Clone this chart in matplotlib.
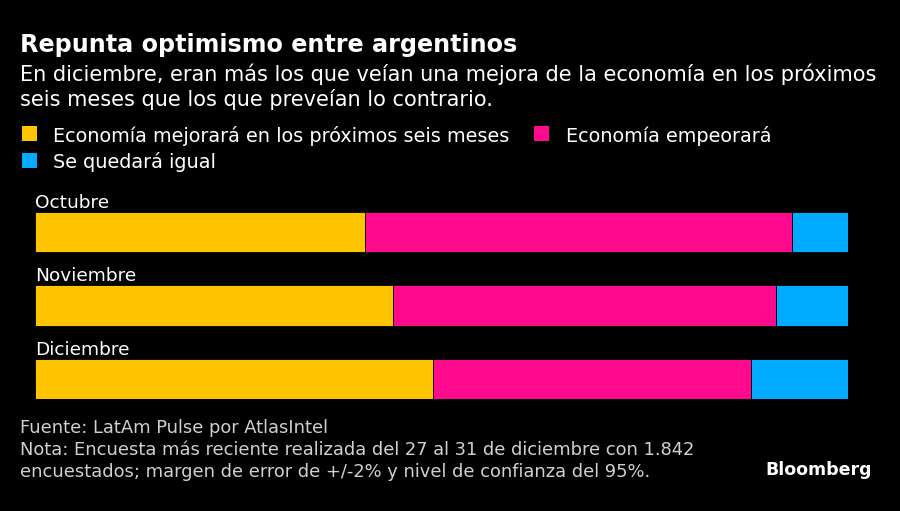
import matplotlib
matplotlib.use("Agg")
import matplotlib.pyplot as plt
from matplotlib.patches import Rectangle

months = ["Octubre", "Noviembre", "Diciembre"]
mejorara = [40.6, 44.0, 49.0]
empeorara = [52.5, 47.2, 39.1]
igual = [6.9, 8.8, 11.9]

series_names = ["Economía mejorará en los próximos seis meses", "Economía empeorará", "Se quedará igual"]
colors = ["#FFC400", "#FF0A8C", "#00ABFF"]

title = "Repunta optimismo entre argentinos"
subtitle = ("En diciembre, eran más los que veían una mejora de la economía en los próximos\n"
            "seis meses que los que preveían lo contrario.")
footer = ("Fuente: LatAm Pulse por AtlasIntel\n"
          "Nota: Encuesta más reciente realizada del 27 al 31 de diciembre con 1.842\n"
          "encuestados; margen de error de +/-2% y nivel de confianza del 95%.")

plt.rcParams['font.family'] = ['DejaVu Sans']
W, H = 900, 511
fig = plt.figure(figsize=(W / 100, H / 100), dpi=100, facecolor="black")

def fx(px):
    return px / W

def fy(py):
    return 1 - py / H

# Title block
fig.text(fx(20), fy(52), title, color="white", fontsize=17.2, fontweight="bold", va="baseline", ha="left")
fig.text(fx(20), fy(81), subtitle.split("\n")[0], color="white", fontsize=15, va="baseline", ha="left")
fig.text(fx(20), fy(105.5), subtitle.split("\n")[1], color="white", fontsize=15, va="baseline", ha="left")

# Legend
leg_items = [(21.5, 141.5, 53, 0), (533.5, 141.5, 565.5, 1), (21.5, 168.5, 53, 2)]
for sx, base, tx, i in leg_items:
    fig.patches.append(Rectangle((fx(sx), fy(base)), 15 / W, 15 / H, transform=fig.transFigure,
                                 facecolor=colors[i], edgecolor="none"))
    fig.text(fx(tx), fy(base), series_names[i], color="white", fontsize=13.9, va="baseline", ha="left")

# Bars
ax = fig.add_axes([fx(35), fy(399), (847.7 - 35) / W, (399 - 212) / H])
ax.set_facecolor("black")
bh = 0.55
ys = list(range(len(months)))
left = [0] * len(months)
for vals, c in zip([mejorara, empeorara, igual], colors):
    ax.barh(ys, vals, left=left, height=bh, color=c, edgecolor="black", linewidth=0.6)
    left = [l + v for l, v in zip(left, vals)]
ax.set_xlim(0, 100)
ax.set_ylim(len(months) - 1 + bh / 2, -bh / 2)
ax.axis("off")
for y, m in zip(ys, months):
    ax.text(0, y - bh / 2 - 0.055, m, color="white", fontsize=13.3, va="baseline", ha="left", clip_on=False)

# Footer
flines = footer.split("\n")
for i, ln in enumerate(flines):
    fig.text(fx(20), fy(432.5 + i * 22.3), ln, color="#d0d0d0", fontsize=12.9, va="baseline", ha="left")

fig.text(fx(871.5), fy(475), "Bloomberg", color="white", fontsize=12.5, fontweight="bold",
         va="baseline", ha="right")

fig.savefig("out.png", dpi=100, facecolor="black")
